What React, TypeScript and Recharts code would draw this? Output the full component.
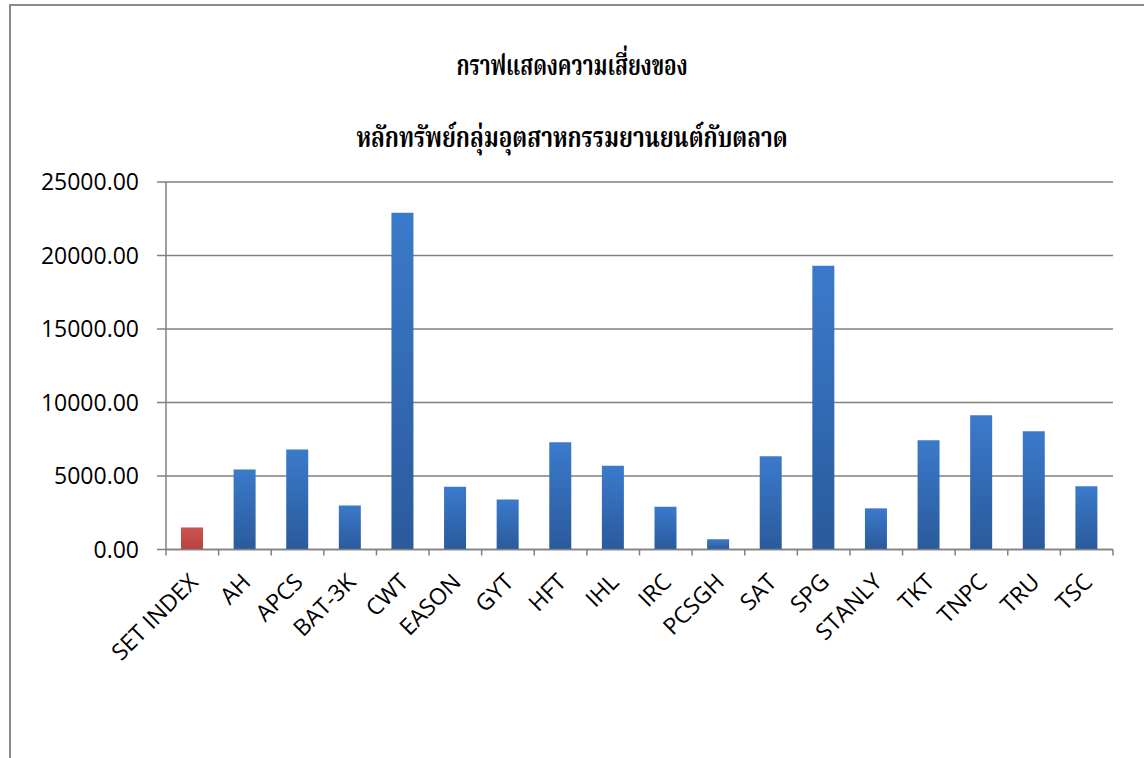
import React from 'react';
import { BarChart, Bar, XAxis, YAxis, CartesianGrid, Cell } from 'recharts';

const categories = [
  'SET INDEX', 'AH', 'APCS', 'BAT-3K', 'CWT', 'EASON', 'GYT', 'HFT', 'IHL',
  'IRC', 'PCSGH', 'SAT', 'SPG', 'STANLY', 'TKT', 'TNPC', 'TRU', 'TSC',
];
const riskValues = [
  1500, 5450, 6800, 3000, 22900, 4270, 3400, 7300, 5700,
  2900, 700, 6350, 19300, 2800, 7430, 9130, 8050, 4300,
];
const yTicks = [0, 5000, 10000, 15000, 20000, 25000];
const titleLines = ['กราฟแสดงความเสี่ยงของ', 'หลักทรัพย์กลุ่มอุตสาหกรรมยานยนต์กับตลาด'];
const highlightCategory = 'SET INDEX';

const data = categories.map((name, i) => ({ name, value: riskValues[i] }));

const AXIS_GRAY = '#808080';
const LABEL_FONT = '"Open Sans", "DejaVu Sans", sans-serif';
const THAI_FONT = '"Noto Serif Thai", "Noto Sans Thai", "Tlwg Typo", "Garuda", "Loma", serif';

const CategoryTick = (props: any) => {
  const { x, y, payload, width, visibleTicksCount, index } = props;
  const count = visibleTicksCount || categories.length;
  const half = width / count / 2;
  const isLast = index === count - 1;
  return (
    <g>
      <line x1={x - half} x2={x - half} y1={y} y2={y + 6} stroke={AXIS_GRAY} strokeWidth={1.5} />
      {isLast && (
        <line x1={x + half} x2={x + half} y1={y} y2={y + 6} stroke={AXIS_GRAY} strokeWidth={1.5} />
      )}
      <g transform={`translate(${x + 7},${y + 34}) rotate(-45)`}>
        <text x={0} y={0} textAnchor="end" fontFamily={LABEL_FONT} fontSize={23} fill="#000">
          {payload.value}
        </text>
      </g>
    </g>
  );
};

const titleStyle = (top: number, scaleX: number): React.CSSProperties => ({
  position: 'absolute',
  left: 272,
  width: 600,
  top,
  textAlign: 'center',
  fontFamily: THAI_FONT,
  fontWeight: 'bold',
  fontSize: 28,
  lineHeight: '40px',
  color: '#000',
  whiteSpace: 'nowrap',
  transform: `scaleX(${scaleX})`,
  transformOrigin: '50% 50%',
});

export default function App() {
  return (
    <div
      style={{
        position: 'fixed',
        left: 0,
        top: 0,
        width: 1144,
        height: 758,
        overflow: 'hidden',
        background: '#fff',
      }}
    >
      <div
        style={{
          position: 'absolute',
          left: 9,
          top: 4,
          width: 1300,
          height: 900,
          borderLeft: `2px solid #8a8a8a`,
          borderTop: `2px solid #8a8a8a`,
          boxSizing: 'border-box',
        }}
      />
      <div style={titleStyle(48, 0.74)}>{titleLines[0]}</div>
      <div style={titleStyle(120, 0.8)}>{titleLines[1]}</div>
      <div style={{ position: 'absolute', left: 0, top: 0 }}>
        <BarChart
          width={1144}
          height={758}
          data={data}
          margin={{ top: 182, right: 31, bottom: 207.5, left: 0 }}
          barCategoryGap={0}
        >
          <defs>
            <linearGradient id="blueBar" x1="0" y1="0" x2="0" y2="1">
              <stop offset="0%" stopColor="#3b7acb" />
              <stop offset="100%" stopColor="#2a5a9c" />
            </linearGradient>
            <linearGradient id="redBar" x1="0" y1="0" x2="0" y2="1">
              <stop offset="0%" stopColor="#cc5451" />
              <stop offset="100%" stopColor="#b8413e" />
            </linearGradient>
          </defs>
          <CartesianGrid vertical={false} stroke={AXIS_GRAY} strokeWidth={1.5} />
          <XAxis
            dataKey="name"
            interval={0}
            height={1}
            axisLine={{ stroke: AXIS_GRAY, strokeWidth: 1.5 }}
            tickLine={false}
            tickSize={0}
            tickMargin={0}
            tick={<CategoryTick />}
          />
          <YAxis
            width={166}
            domain={[0, 25000]}
            ticks={yTicks}
            interval={0}
            tickFormatter={(v: number) => v.toFixed(2)}
            tick={{ fontFamily: LABEL_FONT, fontSize: 23, fill: '#000' }}
            axisLine={{ stroke: AXIS_GRAY, strokeWidth: 1.5 }}
            tickLine={{ stroke: AXIS_GRAY, strokeWidth: 1.5 }}
            tickSize={9}
            tickMargin={18}
          />
          <Bar dataKey="value" barSize={22} isAnimationActive={false}>
            {data.map((d) => (
              <Cell key={d.name} fill={d.name === highlightCategory ? 'url(#redBar)' : 'url(#blueBar)'} />
            ))}
          </Bar>
        </BarChart>
      </div>
    </div>
  );
}
